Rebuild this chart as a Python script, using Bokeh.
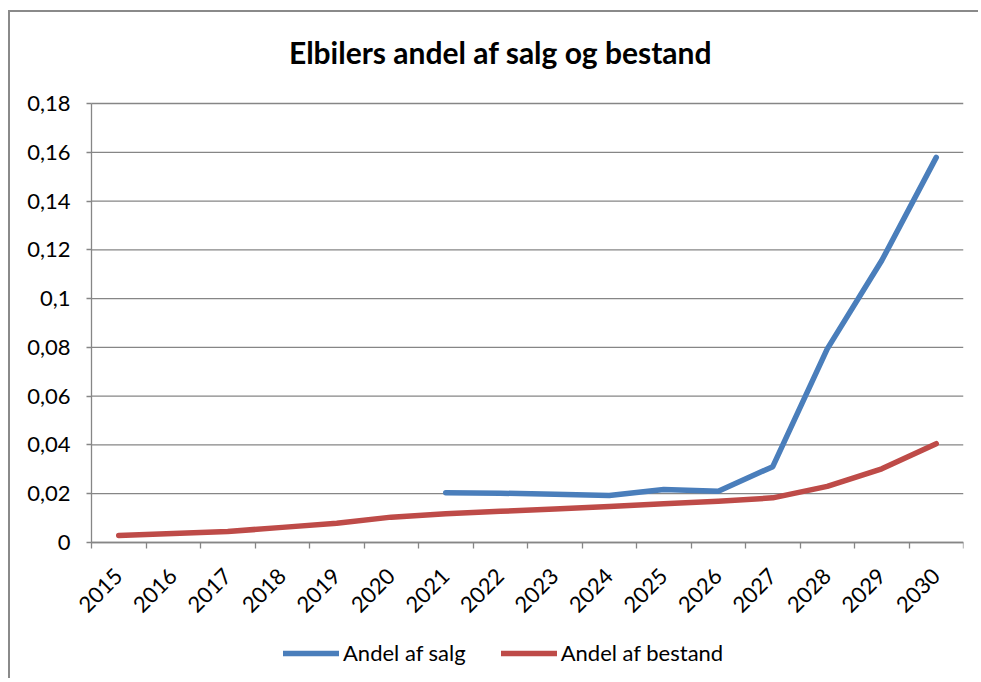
import math
from bokeh.plotting import figure
from bokeh.models import (FixedTicker, CustomJSTickFormatter, Range1d, Legend,
                          LegendItem, Label)
from bokeh.embed import file_html
from bokeh.resources import INLINE

# ---- data ----
years = [2015, 2016, 2017, 2018, 2019, 2020, 2021, 2022,
         2023, 2024, 2025, 2026, 2027, 2028, 2029, 2030]
bestand = [0.0029, 0.0037, 0.0045, 0.0062, 0.0079, 0.0104, 0.0118, 0.0128,
           0.0137, 0.0148, 0.0159, 0.0169, 0.0183, 0.0230, 0.0302, 0.0405]
salg_years = [2021, 2022, 2023, 2024, 2025, 2026, 2027, 2028, 2029, 2030]
salg = [0.0204, 0.0202, 0.0198, 0.0193, 0.0217, 0.0210, 0.0311, 0.0794,
        0.1156, 0.1579]
y_ticks = [0, 0.02, 0.04, 0.06, 0.08, 0.10, 0.12, 0.14, 0.16, 0.18]
title_text = "Elbilers andel af salg og bestand"
series_names = ["Andel af salg", "Andel af bestand"]

FONT = "Lato"
GRAY = "#868686"
BLUE = "#4a7ebb"
RED = "#be4b48"

# layout (pixels): the frame covers the whole canvas so that the title,
# axis labels and the legend are drawn inside it without clipping
TOP_PX = 91          # space above value 0.18
AXIS_PX = 439        # height of value axis 0..0.18
BELOW_PX = 138       # space below value 0
LEFT_PX = 81         # space left of the first category
CAT_PX = 54.5        # width of one category
WIDTH = 970
RIGHT_BORDER = 17
x_first = years[0] - 0.5
x_last = years[-1] + 0.5
x_lo = x_last - (WIDTH - RIGHT_BORDER) / CAT_PX
y_top = y_ticks[-1]
px_per_val = AXIS_PX / (y_top - y_ticks[0])
y_lo = y_ticks[0] - BELOW_PX / px_per_val
y_hi = y_top + TOP_PX / px_per_val

p = figure(width=WIDTH, height=TOP_PX + AXIS_PX + BELOW_PX, output_backend="svg",
           toolbar_location=None,
           x_range=Range1d(x_lo, x_last),
           y_range=Range1d(y_lo, y_hi),
           min_border_left=0, min_border_right=RIGHT_BORDER,
           min_border_top=0, min_border_bottom=0)
p.styles = {"border-left": "2px solid #8a8a8a", "border-top": "2px solid #8a8a8a",
            "margin-left": "8px", "margin-top": "10px"}

p.outline_line_color = None
p.background_fill_color = "white"
p.border_fill_color = "white"
p.xgrid.visible = False
p.ygrid.visible = False

# chart title (centre at 490 px, baseline 39 px from the top)
p.add_layout(Label(x=x_lo + 490 / CAT_PX, y=y_top + (TOP_PX - 39) / px_per_val,
                   text=title_text, text_font=FONT, text_font_size="30px",
                   text_font_style="bold", text_color="black",
                   text_align="center", text_baseline="alphabetic"))

# horizontal gridlines across the plot area only
p.segment(x0=x_first, x1=x_last, y0=y_ticks, y1=y_ticks,
          line_color=GRAY, line_width=1.3)

r1 = p.line(salg_years, salg, line_width=5.5, line_color=BLUE,
            line_cap="round", line_join="round")
r2 = p.line(years, bestand, line_width=5.5, line_color=RED,
            line_cap="round", line_join="round")

# x axis at value 0: ticks between categories, labels at centres
xa = p.xaxis[0]
xa.fixed_location = 0
xa.bounds = (x_first, x_last)
xa.ticker = FixedTicker(ticks=years,
                        minor_ticks=[y - 0.5 for y in years] + [x_last])
xa.major_tick_out = 0
xa.major_tick_in = 0
xa.minor_tick_out = 6
xa.minor_tick_in = 0
xa.minor_tick_line_color = GRAY
xa.minor_tick_line_width = 1.3
xa.axis_line_color = GRAY
xa.axis_line_width = 1.3
xa.major_label_orientation = math.pi / 4
xa.major_label_standoff = 24
xa.major_label_text_font = FONT
xa.major_label_text_font_size = "22px"
xa.major_label_text_color = "black"

ya = p.yaxis[0]
ya.fixed_location = x_first
ya.bounds = (y_ticks[0], y_ticks[-1])
ya.ticker = FixedTicker(ticks=y_ticks)
ya.formatter = CustomJSTickFormatter(code="""
let s = tick.toFixed(2);
s = s.replace(/0+$/, '').replace(/\\.$/, '');
return s.replace('.', ',');
""")
ya.major_tick_out = 5
ya.major_tick_in = 0
ya.minor_tick_out = 0
ya.minor_tick_in = 0
ya.major_tick_line_color = GRAY
ya.major_tick_line_width = 1.3
ya.axis_line_color = GRAY
ya.axis_line_width = 1.3
ya.major_label_standoff = 16
ya.major_label_text_font = FONT
ya.major_label_text_font_size = "22px"
ya.major_label_text_color = "black"

legend = Legend(items=[LegendItem(label=series_names[0], renderers=[r1]),
                       LegendItem(label=series_names[1], renderers=[r2])],
                orientation="horizontal", location=(LEFT_PX + 192, 14),
                padding=0, margin=0, spacing=35, glyph_width=56,
                label_standoff=4, label_text_font=FONT,
                label_text_font_size="22px", label_text_color="black",
                border_line_color=None, background_fill_alpha=0)
p.add_layout(legend, "center")

open("out.html", "w").write(file_html(p, INLINE))
